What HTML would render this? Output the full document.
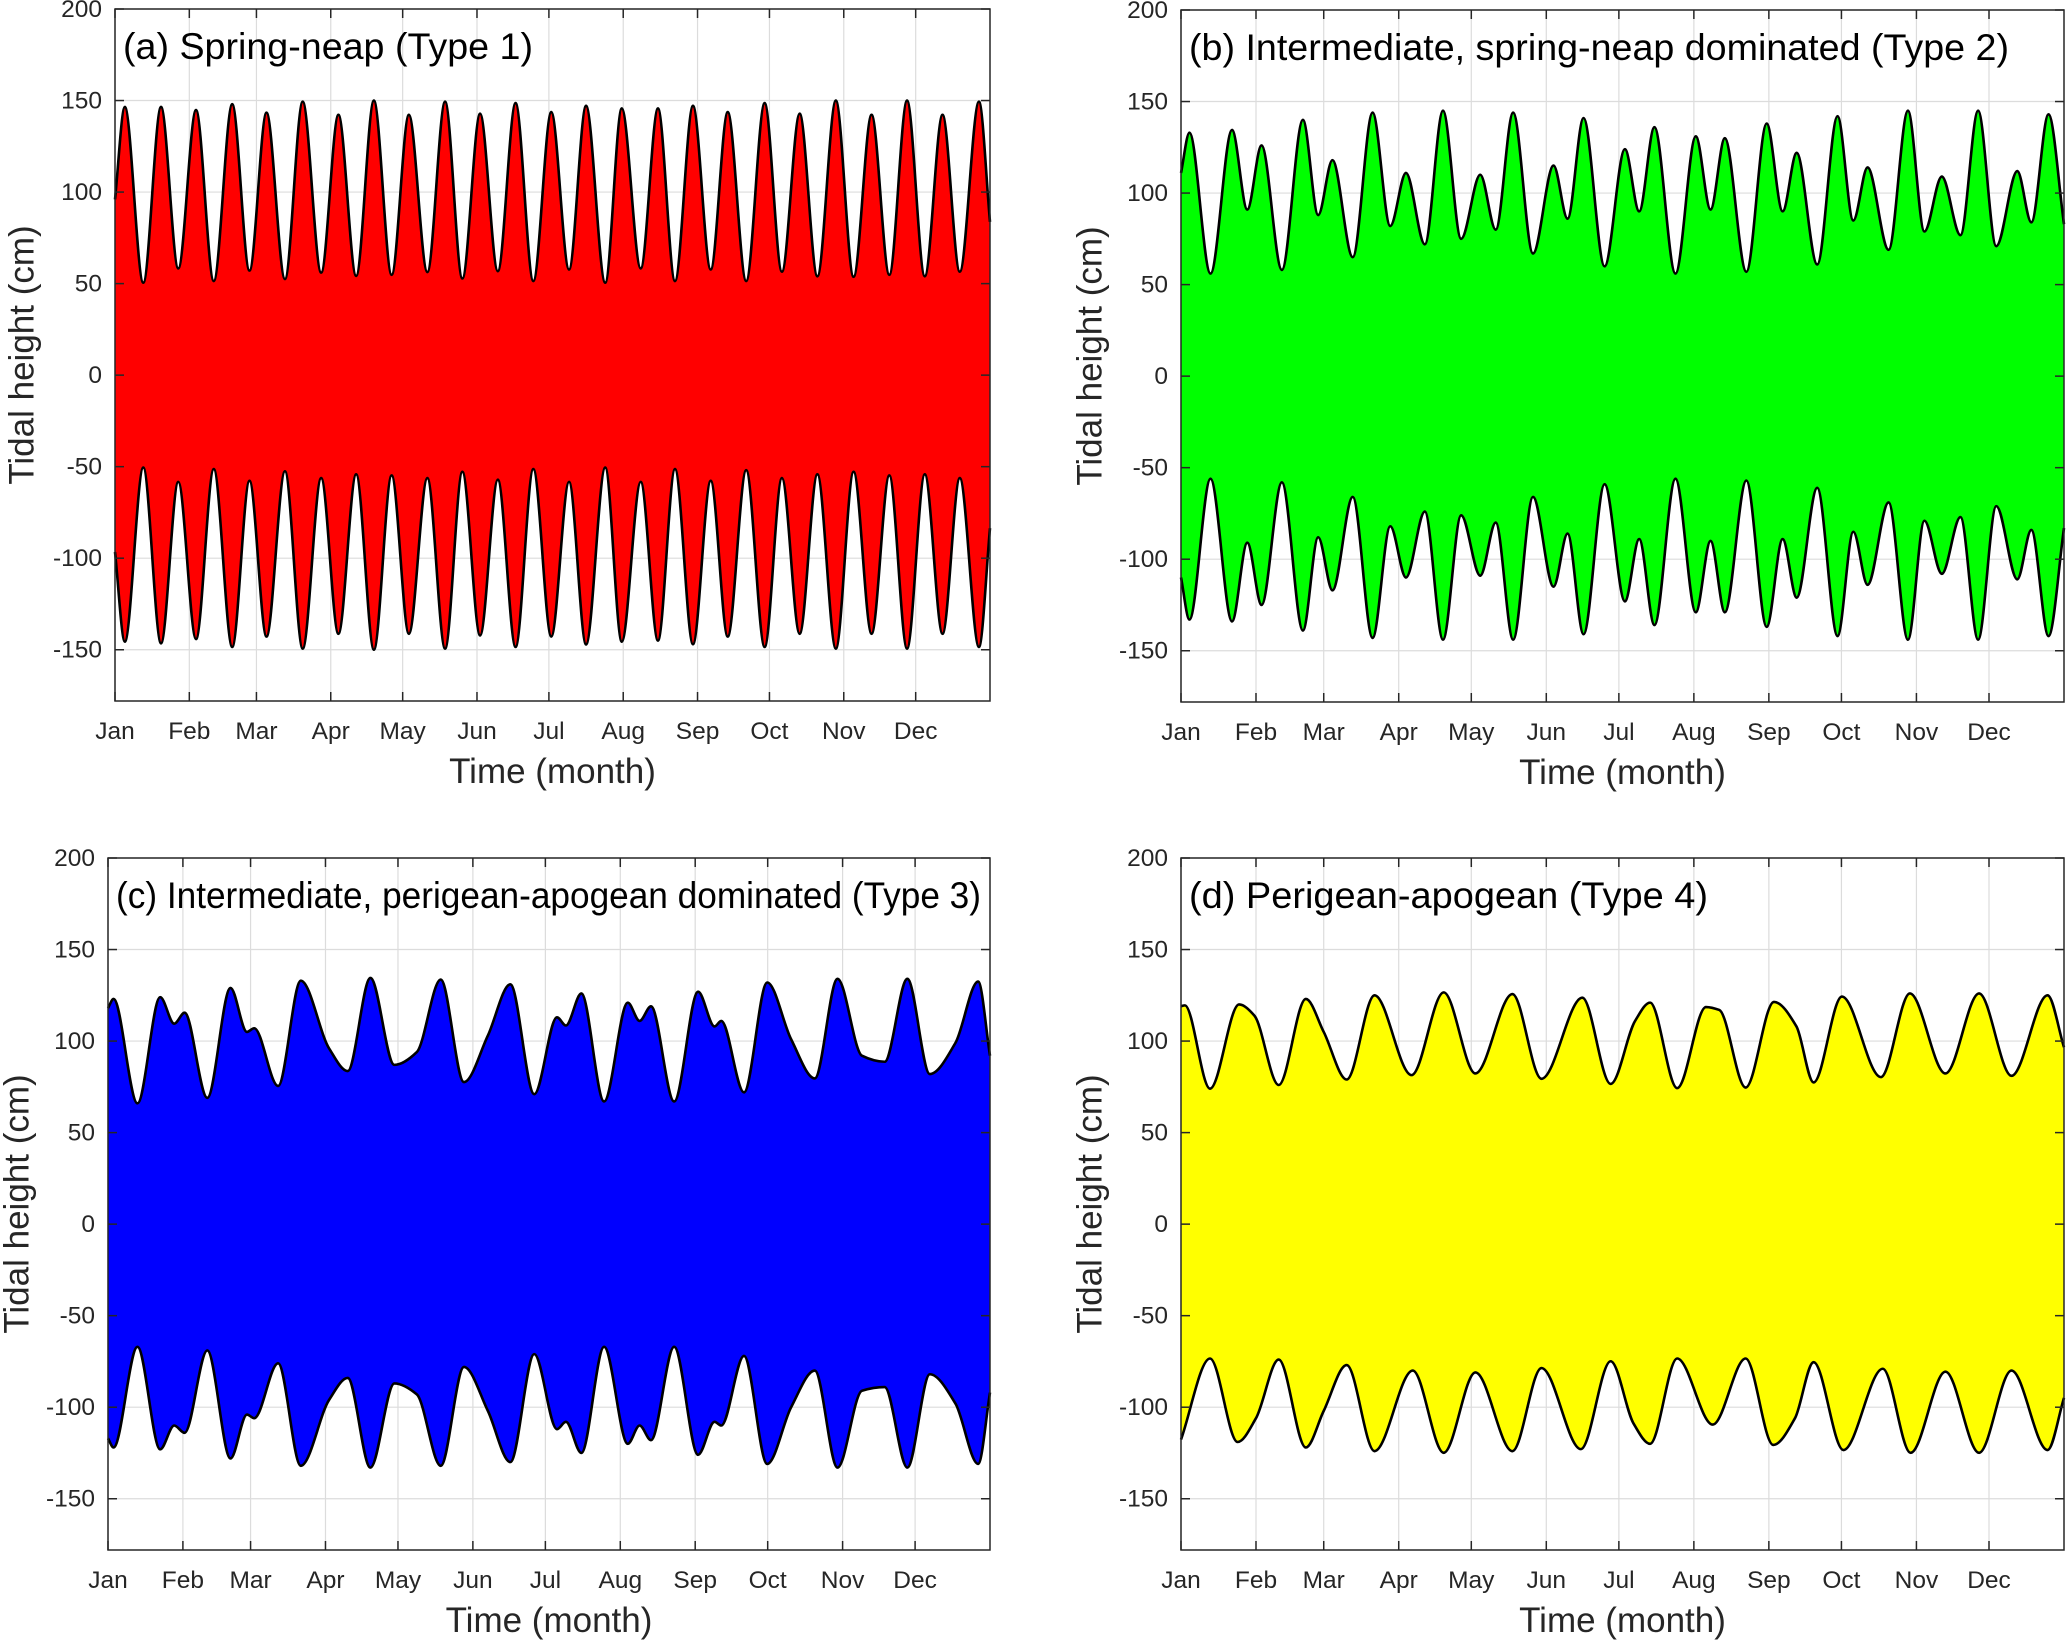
<!DOCTYPE html>
<html><head><meta charset="utf-8"><style>
html,body{margin:0;padding:0;background:#fff;}
svg{display:block;font-family:"Liberation Sans",Arial,sans-serif;}
</style></head><body>
<svg id="fig" width="2067" height="1645" viewBox="0 0 2067 1645" xmlns="http://www.w3.org/2000/svg"></svg>
<script>
// ---- data ----
const monthLabels = ["Jan","Feb","Mar","Apr","May","Jun","Jul","Aug","Sep","Oct","Nov","Dec"];
const monthStartDays = [0,31,59,90,120,151,181,212,243,273,304,334];
const yTicks = [-150,-100,-50,0,50,100,150,200];
const panelTitles = ["(a) Spring-neap (Type 1)","(b) Intermediate, spring-neap dominated (Type 2)","(c) Intermediate, perigean-apogean dominated (Type 3)","(d) Perigean-apogean (Type 4)"];
const panelColors = ["#ff0000","#00ff00","#0000ff","#ffff00"];

// envelope extrema: [day, cm]
const aUpper = [[0,96],[4.1,146.5],[11.8,50.5],[19.2,146.5],[26.4,58.3],[33.8,144.8],[41.2,51.4],[48.9,148],[56.1,57.1],[63.2,143.4],[70.9,52.5],[78.3,149.4],[86,56],[93.2,142.2],[100.6,54.2],[108,150],[115.4,54.8],[122.6,142.2],[130.3,56.3],[137.7,149.4],[144.9,52.8],[152.3,142.8],[159.7,56.8],[167.1,148.6],[174.5,51.4],[182,143.7],[189.4,57.7],[196.5,147.1],[204.5,50.5],[211.4,145.7],[219.3,58.3],[226.5,145.7],[233.6,51.4],[241.1,147.1],[248.5,57.7],[255.6,143.7],[263.3,51.4],[271,148.6],[278.2,56.5],[285.6,142.8],[293,54],[300.7,150],[308.1,53.7],[315.6,142.2],[323,54.8],[330.4,150],[337.8,54],[345.2,142.2],[352.4,56.5],[360.4,149.4],[365,83.7]];
const aLower = [[0,-96.6],[4.1,-145.6],[11.8,-50.5],[19.2,-146.5],[26.4,-58.3],[33.8,-144.2],[41.2,-51.3],[48.9,-148.5],[56.1,-57.7],[63.2,-142.8],[70.9,-52.5],[78.3,-149.4],[86,-56.2],[93.2,-141.3],[100.6,-54.2],[108,-150],[115.4,-54.8],[122.6,-141.3],[130.3,-56.2],[137.7,-149.4],[144.9,-52.8],[152.3,-142.2],[159.7,-57.1],[167.1,-148.5],[174.5,-51.3],[182,-142.8],[189.4,-58.3],[196.5,-147.1],[204.5,-50.5],[211.4,-145.6],[219.3,-58.3],[226.5,-145],[233.6,-51.3],[241.1,-147],[248.5,-57.7],[255.6,-142.8],[263.3,-51.9],[271,-148.5],[278.2,-56.2],[285.6,-141.3],[293,-54.2],[300.7,-149.4],[308.1,-52.8],[315.6,-141.3],[323,-54.8],[330.4,-149.4],[337.8,-54.2],[345.2,-141.3],[352.4,-56.2],[360.4,-148.5],[365,-83.6]];

const bUpper = [[0,111],[3.5,133],[12.2,56],[21.1,134.5],[27.4,91],[33.3,126],[41.7,58],[50.4,140],[56.7,88],[62.6,118],[71,65],[79.2,144],[86.5,82],[93,111],[100.8,72],[108.3,145],[115.8,75],[123.7,110],[130.1,80],[137.3,144],[145.5,67],[154,115],[159.8,86],[166.4,141],[175.1,60],[183.5,124],[189.4,90],[195.7,136],[204.4,56],[212.8,131],[218.9,91],[224.8,130],[233.7,57],[242.1,138],[248.7,90],[254.5,122],[263,61],[271.4,142],[277.9,85],[283.8,114],[292.5,69],[300.5,145],[307.3,79],[314.5,109],[322.2,77],[329.5,145],[337,71],[345.7,112],[351.5,84],[358.6,143],[365,83]];
const bLower = [[0,-110],[3.5,-133],[12.2,-56],[21.1,-134],[27.4,-91],[33.3,-125],[41.7,-58],[50.4,-139],[56.7,-88],[62.6,-117],[71,-66],[79.2,-143],[86.5,-82],[93,-110],[100.8,-74],[108.3,-144],[115.8,-76],[123.7,-109],[130.1,-80],[137.3,-144],[145.5,-66],[154,-115],[159.8,-86],[166.4,-141],[175.1,-59],[183.5,-123],[189.4,-89],[195.7,-136],[204.4,-56],[212.8,-129],[218.9,-90],[224.8,-129],[233.7,-57],[242.1,-137],[248.7,-89],[254.5,-121],[263,-61],[271.4,-142],[277.9,-85],[283.8,-114],[292.5,-69],[300.5,-144],[307.3,-79],[314.5,-108],[322.2,-77],[329.5,-144],[337,-71],[345.7,-111],[351.5,-84],[358.6,-142],[365,-83]];

const cUpper = [[0,118],[2.3,123],[12.2,66],[21.6,124],[27.4,109.5],[31.7,115.5],[41.1,69],[50.7,129],[57.5,105],[60.5,107],[70.4,75.5],[79.8,133],[91.5,96],[99.2,83.6],[108.6,134.5],[118.5,87],[127.8,94],[137.7,133.6],[147.3,77.6],[157.2,103],[166.5,131],[176.4,71],[185.8,113],[189.5,108.5],[195.9,126],[205.3,67],[215.1,121],[220,111],[224.7,119],[234.3,67],[244.2,127],[251,108],[253.8,111],[263.2,72],[272.8,132],[282.7,101],[292.5,79.6],[301.9,134],[312,92],[321.4,88.7],[330.8,134],[340.1,82],[350.7,99],[360.1,132.5],[365,92]];
const cLower = [[0,-117],[2.3,-122],[12.2,-67],[21.6,-123],[27.4,-110],[31.7,-114],[41.1,-69],[50.7,-128],[57.5,-104],[60.5,-106],[70.4,-76],[79.8,-132],[91.5,-96],[99.2,-84],[108.6,-133],[118.5,-87],[127.8,-93],[137.7,-132],[147.3,-78],[157.2,-102],[166.5,-130],[176.4,-71],[185.8,-112],[189.5,-108],[195.9,-125],[205.3,-67],[215.1,-120],[220,-110],[224.7,-118],[234.3,-67],[244.2,-126],[251,-108],[253.8,-110],[263.2,-72],[272.8,-131],[282.7,-100],[292.5,-80],[301.9,-133],[312,-91],[321.4,-89],[330.8,-133],[340.1,-82],[350.7,-98],[360.1,-131],[365,-92]];

const dUpper = [[0,119],[1.6,119.5],[12,74],[24,120],[30.3,114],[40.4,76],[51.6,123],[59,105],[68.5,79],[80,125],[95.3,81.4],[108.6,126.6],[121.7,82.3],[137,125.7],[149,79.4],[165.9,123.7],[177.6,76.6],[187.7,111],[193.9,121],[205.1,74.3],[217,118.6],[222.5,117],[233.4,74.6],[245.1,121.4],[254.4,108],[261.5,77.4],[273.2,124.3],[289.3,80.3],[301.3,126],[316,82.3],[329.9,126],[343.3,81],[358.2,125],[365,96.6]];
const dLower = [[0,-117.7],[12,-73.4],[23.4,-119],[31,-106],[40.4,-74],[51.6,-122],[59,-102],[68.5,-77],[80,-124],[95.8,-80],[108.6,-124.9],[121.7,-81],[137,-124],[149,-78.6],[165.3,-122.9],[177.6,-74.9],[187.1,-109],[193.9,-120],[205.1,-73.4],[219.8,-109.5],[233.4,-73.4],[244.8,-120.6],[253.8,-106],[261.5,-75.4],[273.8,-123.4],[290.1,-79],[301.6,-124.9],[316,-80.6],[329.9,-124.9],[343.3,-80],[358.2,-123.4],[365,-94.9]];

const upperSets = [aUpper,bUpper,cUpper,dUpper];
const lowerSets = [aLower,bLower,cLower,dLower];

// ---- layout ----
const panels = [
  {L:115,R:990,T:9,B:701,ylx:22,tw:410},
  {L:1181,R:2064,T:10,B:702,ylx:1090,tw:820},
  {L:108,R:990,T:858,B:1550,ylx:17,tw:865},
  {L:1181,R:2064,T:858,B:1550,ylx:1090,tw:519}
];
const YMIN=-178, YMAX=200, DAYS=365;
const NS="http://www.w3.org/2000/svg";
const svg=document.getElementById('fig');
function mk(tag,attrs,parent){const e=document.createElementNS(NS,tag);for(const k in attrs)e.setAttribute(k,attrs[k]);(parent||svg).appendChild(e);return e;}

function monotonePath(pts){
  const n=pts.length, dx=[], m=[], t=new Array(n);
  for(let i=0;i<n-1;i++){dx[i]=pts[i+1][0]-pts[i][0];m[i]=(pts[i+1][1]-pts[i][1])/dx[i];}
  t[0]=m[0];t[n-1]=m[n-2];
  for(let i=1;i<n-1;i++){ if(m[i-1]*m[i]<=0) t[i]=0; else { t[i]=3*(dx[i-1]+dx[i])/((2*dx[i]+dx[i-1])/m[i-1]+(dx[i]+2*dx[i-1])/m[i]); } }
  let d="";
  for(let i=0;i<n-1;i++){
    const h=dx[i]/3;
    d+=` C${(pts[i][0]+h).toFixed(2)},${(pts[i][1]+t[i]*h).toFixed(2)} ${(pts[i+1][0]-h).toFixed(2)},${(pts[i+1][1]-t[i+1]*h).toFixed(2)} ${pts[i+1][0].toFixed(2)},${pts[i+1][1].toFixed(2)}`;
  }
  return d;
}

panels.forEach((p,pi)=>{
  const g=mk('g',{});
  
  
  const xs=d=>p.L+(d/DAYS)*(p.R-p.L);
  const ys=v=>p.B-(v-YMIN)/(YMAX-YMIN)*(p.B-p.T);
  const grid=mk('g',{stroke:'#dcdcdc','stroke-width':1.2},g);
  
  
  yTicks.forEach(v=>mk('line',{x1:p.L,x2:p.R,y1:ys(v),y2:ys(v)},grid));
  monthStartDays.forEach(d=>mk('line',{x1:xs(d),x2:xs(d),y1:p.T,y2:p.B},grid));
  const up=upperSets[pi].map(q=>[xs(q[0]),ys(q[1])]);
  const lo=lowerSets[pi].map(q=>[xs(q[0]),ys(q[1])]).reverse();
  const dUp="M"+up[0][0]+","+up[0][1]+monotonePath(up);
  const dLo=monotonePath(lo);
  const area=mk('path',{d:dUp+" L"+lo[0][0]+","+lo[0][1]+dLo+" Z",fill:panelColors[pi],stroke:'none'},g);
  
  
  const l1=mk('path',{d:dUp,fill:'none',stroke:'#000','stroke-width':2.6},g);
  
  
  const l2=mk('path',{d:"M"+lo[0][0]+","+lo[0][1]+dLo,fill:'none',stroke:'#000','stroke-width':2.6},g);
  
  
  const box=mk('rect',{x:p.L,y:p.T,width:p.R-p.L,height:p.B-p.T,fill:'none',stroke:'#262626','stroke-width':1.5},g);
  
  
  const tk=mk('g',{stroke:'#262626','stroke-width':1.5},g);
  
  
  yTicks.forEach(v=>{mk('line',{x1:p.L,x2:p.L+9,y1:ys(v),y2:ys(v)},tk);mk('line',{x1:p.R-9,x2:p.R,y1:ys(v),y2:ys(v)},tk);});
  monthStartDays.forEach(d=>{mk('line',{x1:xs(d),x2:xs(d),y1:p.B,y2:p.B-9},tk);mk('line',{x1:xs(d),x2:xs(d),y1:p.T,y2:p.T+9},tk);});
  yTicks.forEach(v=>{
    const t=mk('text',{x:p.L-13,y:ys(v)+8,'text-anchor':'end','font-size':24.5,fill:'#262626'},g);
    
    
    t.textContent=String(v);
  });
  monthLabels.forEach((m,i)=>{
    const t=mk('text',{x:xs(monthStartDays[i]),y:p.B+38,'text-anchor':'middle','font-size':24.5,fill:'#262626'},g);
    
    
    t.textContent=m;
  });
  const xt=mk('text',{x:(p.L+p.R)/2,y:p.B+82,'text-anchor':'middle','font-size':35,fill:'#262626'},g);
  
  
  xt.textContent='Time (month)';
  const cy=(p.T+p.B)/2;
  const yt=mk('text',{x:p.ylx,y:cy,'text-anchor':'middle','font-size':35,fill:'#262626',transform:`rotate(-90 ${p.ylx} ${cy})`,'dominant-baseline':'central'},g);
  
  
  yt.textContent='Tidal height (cm)';
  const tt=mk('text',{x:p.L+8,y:p.T+50,'font-size':37,fill:'#000',textLength:p.tw,lengthAdjust:'spacingAndGlyphs'},g);
  
  
  tt.textContent=panelTitles[pi];
});
</script>
</body></html>
